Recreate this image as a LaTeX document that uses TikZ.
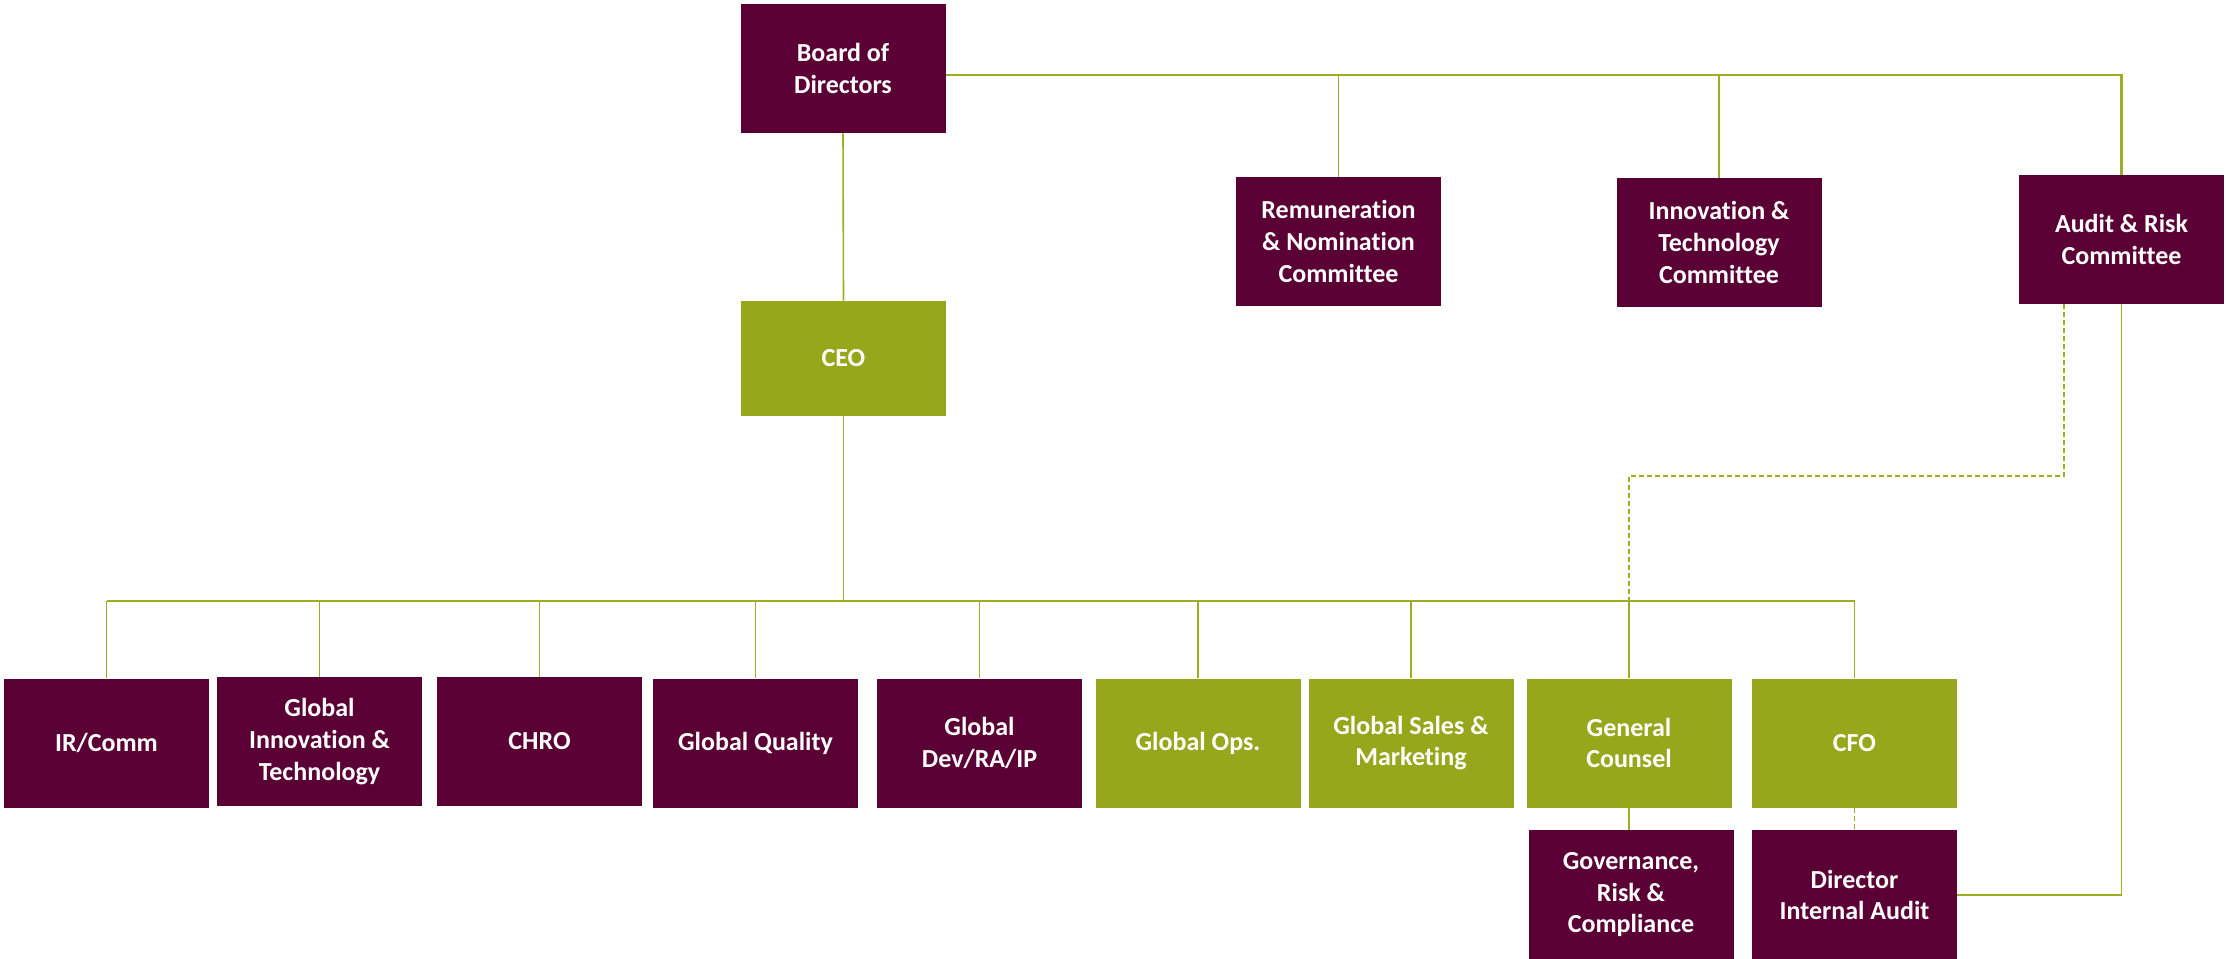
\documentclass[tikz,border=0pt]{standalone}
\usepackage{fontspec}
\setmainfont{Carlito}[Ligatures=NoCommon]
\usepackage{tikz}
\usetikzlibrary{calc}
\usepackage{xcolor}
\definecolor{hmaroon}{HTML}{5A0034}
\definecolor{hgreen}{HTML}{97A71C}
\definecolor{hline}{HTML}{9DAD24}

\begin{document}
\begin{tikzpicture}[x=0.5pt, y=-0.5pt,
  unit/.style={inner sep=0pt, minimum width=102.5pt, minimum height=64.5pt,
    align=center, text=white, font=\fontsize{13}{15.8}\selectfont\bfseries},
  maroonbox/.style={unit, fill=hmaroon},
  greenbox/.style={unit, fill=hgreen},
  conn/.style={draw=hline, line width=0.8pt},
  busline/.style={draw=hline, line width=1.1pt},
  dotline/.style={conn, dash pattern=on 2.5pt off 1.5pt}]
              \useasboundingbox (0,0) rectangle (2229,959);
              % board and committees
              \node[maroonbox] (board) at (843,68.5) {Board of\\Directors};
              \node[greenbox, minimum height=57.5pt] (ceo) at (843.5,358.5) {CEO};
              \node[maroonbox] (remun) at (1338.5,241.5) {Remuneration\\\& Nomination\\Committee};
              \node[maroonbox] (innov) at (1719,242.5) {Innovation \&\\Technology\\Committee};
              \node[maroonbox] (audit) at (2121.5,239.5) {Audit \& Risk\\Committee};
              % reports to the CEO
              \node[maroonbox] (ir) at (106.5,743) {IR/Comm};
              \node[maroonbox] (ginnov) at (319.5,741.5) {Global\\Innovation \&\\Technology};
              \node[maroonbox] (chro) at (539.5,741.5) {CHRO};
              \node[maroonbox] (gq) at (755.5,743) {Global Quality};
              \node[maroonbox] (dev) at (979.5,743) {Global\\Dev/RA/IP};
              \node[greenbox] (ops) at (1198,743) {Global Ops.};
              \node[greenbox] (sales) at (1411,743) {Global Sales \&\\Marketing};
              \node[greenbox] (gc) at (1629,743) {General\\Counsel};
              \node[greenbox] (cfo) at (1854.5,743) {CFO};
              \node[maroonbox] (gov) at (1631,894.8) {Governance,\\Risk \&\\Compliance};
              \node[maroonbox] (dia) at (1854.5,894.8) {Director\\Internal Audit};
              % connectors
              \coordinate (topend) at (2121.5,75);
              \coordinate (ceobus) at (843.5,601);
              \coordinate (dashturn) at (2064,476);
              \draw[busline] (board.east |- topend) -- (topend) -- (audit.north);
              \draw[conn] (remun.north) -- (remun.north |- topend);
              \draw[conn] (innov.north) -- (innov.north |- topend);
              \draw[conn] (board.south) -- (ceo.north);
              \draw[conn] (ceo.south) -- (ceobus);
              \draw[busline] (ir.north |- ceobus) -- (cfo.north |- ceobus);
              \foreach \n in {ir,ginnov,chro,gq,dev,ops,sales,gc,cfo}
                \draw[conn] (\n.north) -- (\n.north |- ceobus);
              \draw[conn] (gc.south) -- (gc.south |- gov.north);
              \draw[dotline] (cfo.south) -- (dia.north);
              \draw[conn] (audit.south) |- (dia.east);
              \draw[dotline] (audit.south -| dashturn) -- (dashturn) -| (gc.north |- ceobus);
            \end{tikzpicture}
\end{document}
